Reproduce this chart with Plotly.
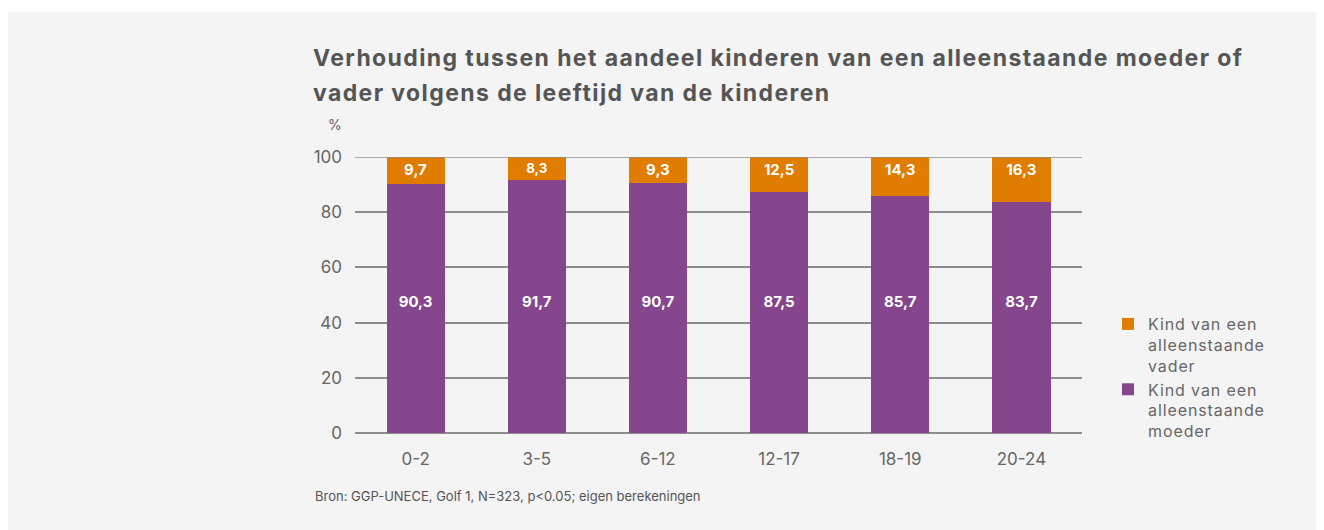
import plotly.graph_objects as go

categories = ["0-2", "3-5", "6-12", "12-17", "18-19", "20-24"]
moeder = [90.3, 91.7, 90.7, 87.5, 85.7, 83.7]
vader = [9.7, 8.3, 9.3, 12.5, 14.3, 16.3]
y_ticks = [0, 20, 40, 60, 80, 100]

# page is offset by 8px body margin; work in figure coordinates
W, H = 1316, 522
L, R, T, B = 347, 242, 149, 97
pw, ph = W - L - R, H - T - B

def px(x):
    return (x - L) / pw

def py(y):
    return (H - B - y) / ph

def fmt(v):
    return f"{v:.1f}".replace(".", ",")

def spaced(s, ls):
    return f'<span style="letter-spacing:{ls}px">{s}</span>'

GREY_BG = "#F4F4F4"
TXT = "#666666"
LABEL_FONT = dict(color="white", size=15, family="Inter", weight="bold")

fig = go.Figure()
fig.add_trace(go.Bar(
    x=categories, y=moeder,
    name=spaced("Kind van een", 0.9) + "<br>" + spaced("alleenstaande", 0.9) + "<br>" + spaced("moeder", 0.9),
    marker=dict(color="#85468D", line=dict(width=0)),
    textposition="none", width=0.48, hoverinfo="x+y",
))
fig.add_trace(go.Bar(
    x=categories, y=vader,
    name=spaced("Kind van een", 0.9) + "<br>" + spaced("alleenstaande", 0.9) + "<br>" + spaced("vader", 0.9),
    marker=dict(color="#E07C00", line=dict(width=0)),
    text=[fmt(v) for v in vader], textposition="inside", insidetextanchor="end",
    textfont=LABEL_FONT, width=0.48,
))
# labels of the purple segments sit at a common height in the original
fig.add_trace(go.Scatter(
    x=categories, y=[47] * len(categories), mode="text",
    text=[fmt(v) for v in moeder], textfont=LABEL_FONT,
    showlegend=False, hoverinfo="skip",
))

fig.update_layout(
    width=W, height=H,
    barmode="stack",
    paper_bgcolor=GREY_BG, plot_bgcolor=GREY_BG,
    margin=dict(l=L, r=R, t=T, b=B),
    font=dict(family="Inter", color=TXT),
    showlegend=True,
    legend=dict(
        traceorder="reversed", x=px(1100), y=py(299), xanchor="left", yanchor="top",
        font=dict(size=16, color=TXT, family="Inter"), bgcolor="rgba(0,0,0,0)",
        valign="top", tracegroupgap=0,
    ),
    xaxis=dict(
        tickfont=dict(size=17, color=TXT, family="Inter"), showgrid=False, showline=False,
        ticks="", ticklabelstandoff=14,
    ),
    yaxis=dict(
        range=[0, 100], tickvals=y_ticks, tickfont=dict(size=17, color=TXT, family="Inter"),
        showgrid=True, gridcolor="#8C8C8C", gridwidth=1.5, zeroline=True,
        zerolinecolor="#8C8C8C", zerolinewidth=1.5, ticks="", ticklabelstandoff=12,
    ),
    bargap=0.52,
    shapes=[
        dict(type="rect", xref="paper", yref="paper", x0=px(-10), x1=px(W + 10),
             y0=py(4), y1=py(-10), fillcolor="white", line=dict(width=0), layer="below"),
        dict(type="line", xref="paper", yref="y", x0=0, x1=1, y0=100, y1=100,
             line=dict(color="#8C8C8C", width=1.5)),
    ],
    annotations=[
        dict(text="<b>" + spaced("Verhouding tussen het aandeel kinderen van een alleenstaande moeder of", 1.4) + "</b>",
             xref="paper", yref="paper", x=px(303), y=py(50), xanchor="left", yanchor="middle",
             align="left", showarrow=False, font=dict(size=23, color="#555555", family="Inter")),
        dict(text="<b>" + spaced("vader volgens de leeftijd van de kinderen", 1.4) + "</b>",
             xref="paper", yref="paper", x=px(303), y=py(85), xanchor="left", yanchor="middle",
             align="left", showarrow=False, font=dict(size=23, color="#555555", family="Inter")),
        dict(text="%", xref="paper", yref="paper", x=px(327), y=py(117), xanchor="center", yanchor="middle",
             showarrow=False, font=dict(size=14, color=TXT, family="Inter")),
        dict(text="Bron: GGP-UNECE, Golf 1, N=323, p<0.05; eigen berekeningen",
             xref="paper", yref="paper", x=px(305), y=py(488), xanchor="left", yanchor="middle",
             showarrow=False, font=dict(size=13, color="#555555", family="Inter")),
    ],
)

fig.write_html("out.html")
